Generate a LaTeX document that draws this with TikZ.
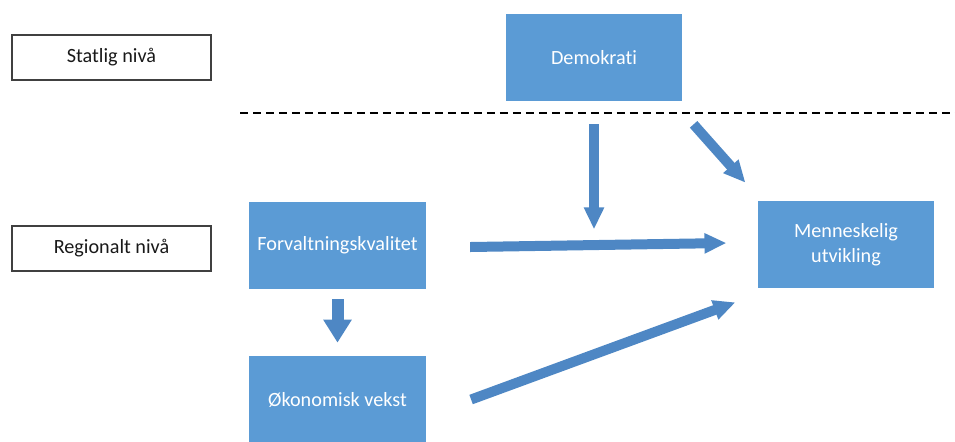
\documentclass[tikz,border=0pt]{standalone}
\usepackage{fontspec}
\setmainfont{Carlito}[Ligatures=NoCommon]
\usetikzlibrary{arrows.meta,calc}
\definecolor{boxblue}{HTML}{5B9BD5}
\definecolor{arrowblue}{HTML}{4E87C4}

\begin{document}
\begin{tikzpicture}[x=0.02cm,y=-0.02cm]
  \tikzstyle{every node}=[font=\fontsize{11.5}{14}\selectfont,align=center,inner sep=0pt]
  \tikzstyle{level}=[draw=black!75,line width=0.8pt,fill=white,text=black!90,minimum width=3.98cm,minimum height=0.9cm]
  \tikzstyle{factor}=[fill=boxblue,text=white,minimum width=3.53cm,minimum height=1.74cm]
  \tikzstyle{flow}=[arrowblue,line width=0.2cm,-{Triangle[width=0.38cm,length=0.44cm]}]
  \useasboundingbox (0,0) rectangle (955,441);
  \node [level] (statlig) at (111.5,57.5) {Statlig nivå};
  \node [level] (regional) at (111.5,248.5) {Regionalt nivå};
  \node [factor] (demo) at (594,57.5) {Demokrati};
  \node [factor] (forv) at (337.5,245.5) {Forvaltningskvalitet};
  \node [factor] (menn) at (846,244.5) {Menneskelig\\utvikling};
  \node [factor] (oko) at (337.5,399.5) {Økonomisk vekst};
  \coordinate (skille) at (240,113);
  \coordinate (skilleslutt) at (955,113);
  \draw [line width=0.04cm,dash pattern=on 0.16cm off 0.1cm] (skille) -- (skilleslutt);
  \coordinate (treff) at ($(demo.south)+(0,128)$);
  \draw [flow,shorten <=0.46cm] (demo.south) -- (treff);
  \draw [flow] ($(demo.south east)+(11,23)$) -- ($(menn.north west)+(-12,-18)$);
  \draw [flow] ($(forv.east)+(44,1.5)$) -- ($(menn.west)+(-31,-1.5)$);
  \draw [flow,line width=0.24cm,-{Triangle[width=0.54cm,length=0.46cm]},shorten <=0.2cm,shorten >=0.26cm] (forv.south) -- (oko.north);
  \draw [flow] ($(oko.east)+(45,0)$) -- ($(menn.south west)+(-22,14)$);
\end{tikzpicture}
\end{document}
